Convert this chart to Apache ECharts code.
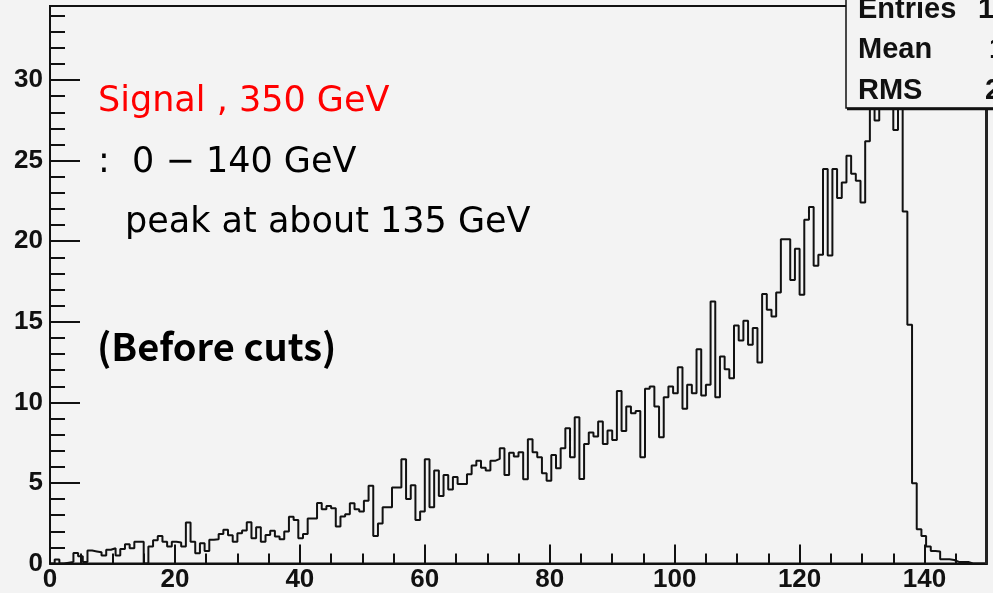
<!DOCTYPE html>
<html><head><meta charset="utf-8">
<script src="https://cdn.jsdelivr.net/npm/echarts@6/dist/echarts.min.js"></script>
<style>html,body{margin:0;padding:0;background:#f3f3f3;} #c{width:993px;height:593px;}</style>
</head><body><div id="c"></div>
<script>
// ---- data ----
const xMin = 0, xMax = 150, binWidth = 0.75;
const yMin = 0, yMax = 34.6;
const counts = [
 0, 0.25, 0, 0.05, 0.1, 0.65, 0.45, 0.1, 0.8, 0.75,
 0.7, 0.5, 0.85, 0.95, 0.5, 0.9, 1.2, 0.95, 1.35, 1.35,
 0, 1.05, 1.45, 1.7, 1.35, 1.05, 1.35, 1.3, 1.05, 2.55,
 1.35, 0.63, 1.25, 0.78, 1.47, 1.5, 1.83, 2.1, 1.76, 1.35,
 1.88, 2.05, 2.56, 1.56, 2.25, 1.35, 1.77, 2.04, 1.67, 1.5,
 1.98, 2.9, 2.7, 1.56, 1.83, 2.8, 2.8, 3.75, 3.36, 3.57,
 3.43, 2.29, 2.91, 3.05, 3.74, 3.36, 3.22, 3.9, 4.83, 1.71,
 2.49, 3.49, 3.49, 4.71, 4.71, 6.47, 4.0, 4.86, 2.7, 3.22,
 6.47, 3.49, 5.77, 4.19, 5.5, 4.6, 5.37, 4.94, 4.94, 5.54,
 6.08, 6.37, 5.95, 5.77, 6.37, 6.49, 7.15, 5.5, 6.88, 6.64,
 6.9, 5.23, 7.71, 6.9, 6.59, 5.6, 5.14, 6.74, 5.91, 7.15,
 8.4, 6.59, 9.08, 5.25, 7.42, 8.13, 7.88, 8.81, 7.42, 8.25,
 7.67, 10.7, 8.23, 9.74, 9.33, 9.47, 6.59, 10.84, 10.98, 9.74,
 7.84, 10.32, 10.98, 10.57, 12.18, 9.6, 11.09, 10.57, 13.3, 10.42,
 11.09, 16.26, 10.32, 12.85, 12.06, 11.49, 14.77, 13.84, 15.06, 13.57,
 14.61, 12.47, 16.72, 15.75, 15.33, 16.82, 20.13, 20.13, 17.6, 19.53,
 16.68, 21.33, 22.12, 18.48, 19.16, 24.48, 19.12, 24.48, 22.68, 23.65,
 25.3, 24.19, 23.75, 22.4, 26.2, 29.5, 27.5, 31, 33, 30.5,
 26.9, 31.5, 21.85, 14.81, 4.98, 2.12, 1.7, 1.05, 0.78, 0.74,
 0.26, 0.26, 0.22, 0.1, 0.1, 0.1, 0, 0, 0, 0
];
const xMajorStep = 20, xMinorStep = 5;
const yMajorStep = 5, yMinorStep = 1;
const statsLabels = ['Entries', 'Mean', 'RMS'];
const statsValues = ['1', '1', '2'];
const annotSignal = 'Signal , 350 GeV';
const annotRange = ':  0 \u2212 140 GeV';
const annotPeak = 'peak at about 135 GeV';
const annotCuts = '(Before cuts)';

// ---- build histogram outline (step) ----
const lineData = counts.map((v, i) => [xMin + i * binWidth, v]);
lineData.push([xMax, counts[counts.length - 1]]);

const BG = '#f3f3f3';
const gridRect = { left: 50, right: 6, top: 6, bottom: 29.5 };
const axisLabelStyle = { fontFamily: '"Liberation Sans", Arial, sans-serif', fontWeight: 'bold', fontSize: 26, color: '#111' };
const regFont = '35px "DejaVu Sans"';

const chart = echarts.init(document.getElementById('c'), null, { renderer: 'canvas' });
chart.setOption({
  backgroundColor: BG,
  animation: false,
  textStyle: { fontFamily: '"Liberation Sans", Arial, sans-serif' },
  grid: [
    Object.assign({ show: true, backgroundColor: BG, borderColor: '#111', borderWidth: 2, containLabel: false }, gridRect),
    Object.assign({ show: false, containLabel: false }, gridRect)
  ],
  xAxis: [
    { gridIndex: 0, type: 'value', min: xMin, max: xMax, interval: xMajorStep,
      axisLine: { show: true, onZero: false, lineStyle: { color: '#111', width: 2 } },
      axisTick: { show: true, inside: true, length: 19, lineStyle: { color: '#111', width: 2 } },
      axisLabel: Object.assign({ margin: 3, showMaxLabel: false, formatter: v => (v % xMajorStep === 0 ? String(v) : '') }, axisLabelStyle),
      splitLine: { show: false } },
    { gridIndex: 1, type: 'value', min: xMin, max: xMax, interval: xMinorStep,
      axisLine: { show: false, onZero: false },
      axisTick: { show: true, inside: true, length: 10, lineStyle: { color: '#111', width: 2 } },
      axisLabel: { show: false }, splitLine: { show: false } }
  ],
  yAxis: [
    { gridIndex: 0, type: 'value', min: yMin, max: yMax, interval: yMajorStep,
      axisLine: { show: true, onZero: false, lineStyle: { color: '#111', width: 2 } },
      axisTick: { show: true, inside: true, length: 30, lineStyle: { color: '#111', width: 2 } },
      axisLabel: Object.assign({ margin: 7, showMaxLabel: false, formatter: v => (v % yMajorStep === 0 ? String(v) : '') }, axisLabelStyle),
      splitLine: { show: false } },
    { gridIndex: 1, type: 'value', min: yMin, max: yMax, interval: yMinorStep,
      axisLine: { show: false, onZero: false },
      axisTick: { show: true, inside: true, length: 15, lineStyle: { color: '#111', width: 2 } },
      axisLabel: { show: false }, splitLine: { show: false } }
  ],
  series: [{
    type: 'line', xAxisIndex: 0, yAxisIndex: 0, data: lineData, step: 'end',
    symbol: 'none', clip: true, lineStyle: { color: '#111', width: 2 }, z: 5
  }],
  graphic: [
    { type: 'line', z: 50, shape: { x1: 986.5, y1: 5, x2: 986.5, y2: 564 }, style: { stroke: '#222', lineWidth: 3 } },
    { type: 'rect', z: 100, shape: { x: 846, y: -10, width: 160, height: 118 }, style: { fill: BG, stroke: '#111', lineWidth: 1.5 } },
    { type: 'line', z: 101, shape: { x1: 847, y1: 109, x2: 993, y2: 109 }, style: { stroke: '#111', lineWidth: 2.5 } },
    { type: 'text', z: 102, style: { x: 858, y: 10, text: statsLabels[0], font: 'bold 29px "Liberation Sans"', fill: '#111', textVerticalAlign: 'middle' } },
    { type: 'text', z: 102, style: { x: 858, y: 50, text: statsLabels[1], font: 'bold 29px "Liberation Sans"', fill: '#111', textVerticalAlign: 'middle' } },
    { type: 'text', z: 102, style: { x: 858, y: 91, text: statsLabels[2], font: 'bold 29px "Liberation Sans"', fill: '#111', textVerticalAlign: 'middle' } },
    { type: 'text', z: 102, style: { x: 978, y: 10, text: statsValues[0], font: 'bold 29px "Liberation Sans"', fill: '#111', textVerticalAlign: 'middle' } },
    { type: 'text', z: 102, style: { x: 989, y: 50, text: statsValues[1], font: 'bold 29px "Liberation Sans"', fill: '#111', textVerticalAlign: 'middle' } },
    { type: 'text', z: 102, style: { x: 985, y: 91, text: statsValues[2], font: 'bold 29px "Liberation Sans"', fill: '#111', textVerticalAlign: 'middle' } },
    { type: 'text', z: 60, style: { x: 98, y: 102, text: annotSignal, font: regFont, fill: '#ff0000', textVerticalAlign: 'middle' } },
    { type: 'text', z: 60, style: { x: 98, y: 163, text: annotRange, font: regFont, fill: '#000', textVerticalAlign: 'middle' } },
    { type: 'text', z: 60, style: { x: 125, y: 223, text: annotPeak, font: regFont, fill: '#000', textVerticalAlign: 'middle' } },
    { type: 'text', z: 60, style: { x: 97, y: 347, text: annotCuts, font: 'bold 38px "Noto Sans CJK JP"', fill: '#000', textVerticalAlign: 'middle' } }
  ]
});
</script></body></html>
